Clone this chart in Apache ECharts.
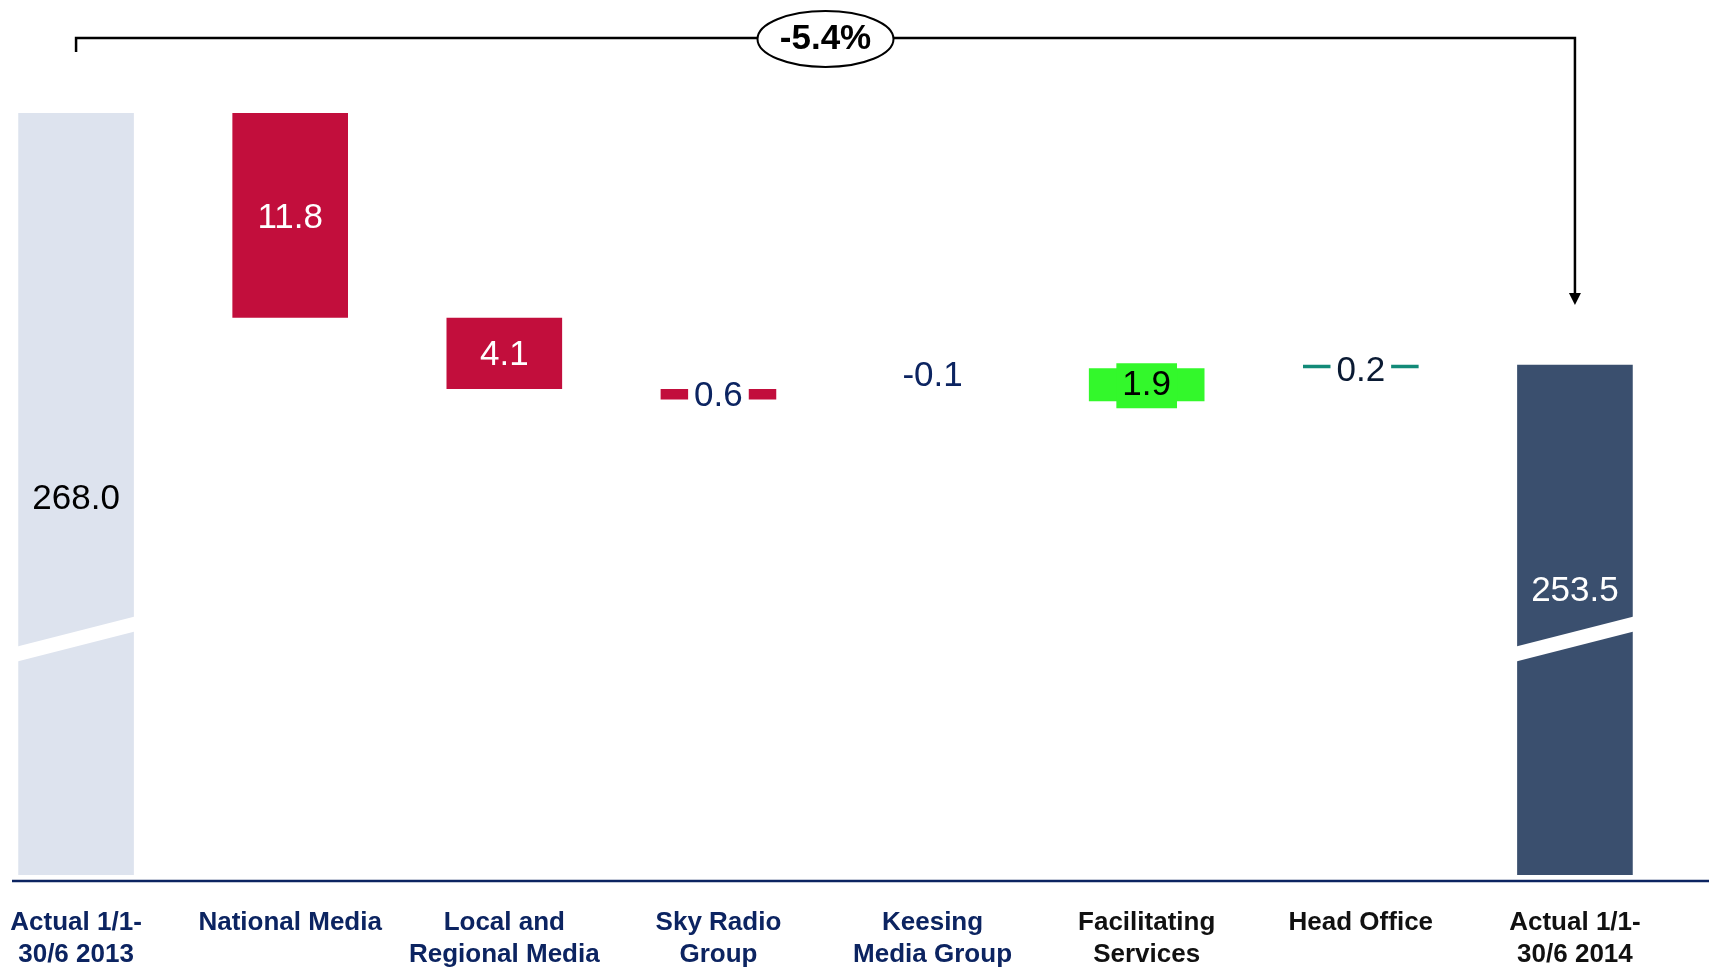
<!DOCTYPE html>
<html lang="en">
  <head>
    <meta charset="UTF-8" />
    <title>Revenue bridge 1/1-30/6 2013 to 1/1-30/6 2014</title>
    <style>
      * {
        margin: 0;
        padding: 0;
      }
      body {
        background: #ffffff;
      }
      #main {
        width: 1709px;
        height: 967px;
      }
    </style>
  </head>
  <body>
    <div id="main"></div>
    <script src="https://cdn.jsdelivr.net/npm/echarts@6/dist/echarts.min.js"></script>
    <script>
      // categories along the bottom
      var categories = [
        "Actual 1/1-\n30/6 2013",
        "National Media",
        "Local and\nRegional Media",
        "Sky Radio\nGroup",
        "Keesing\nMedia Group",
        "Facilitating\nServices",
        "Head Office",
        "Actual 1/1-\n30/6 2014",
      ];
      // start & end totals, and the changes in between
      var startTotal = 268.0;
      var endTotal = 253.5;
      var changes = [-11.8, -4.1, -0.6, -0.1, 1.9, 0.2];
      // the texts shown on the bars
      var valueLabels = ["268.0", "11.8", "4.1", "0.6", "-0.1", "1.9", "0.2", "253.5"];
      // the change between the two totals
      var changePct = "-5.4%";
      // where the axis is cut (value) & the visible bottom of the axis
      var breakValue = 237.7;
      var axisMin = 224.1;

      var barColors = ["#dde3ee", "#c20e3c", "#c20e3c", "#c20e3c", "rgba(0,0,0,0)", "#33f82b", "#128a78", "#3a4f6e"];
      var navy = "#0c2461";
      var font = "'Liberation Sans', Arial, sans-serif";

      // build the waterfall: invisible helper + visible piece
      var helper = [];
      var visible = [];
      helper.push(axisMin);
      visible.push(startTotal - axisMin);
      var level = startTotal;
      for (var i = 0; i < changes.length; i++) {
        var next = Math.round((level + changes[i]) * 10) / 10;
        helper.push(Math.min(level, next));
        visible.push(Math.abs(changes[i]));
        level = next;
      }
      helper.push(axisMin);
      visible.push(endTotal - axisMin);

      // label style for each bar
      var labelStyles = [
        { position: "inside", color: "#000000", offset: [0, 5] },
        { position: "inside", color: "#ffffff", offset: [0, 3] },
        { position: "inside", color: "#ffffff", offset: [0, 2] },
        { position: "inside", color: navy, backgroundColor: "#ffffff", padding: [0, 6], offset: [0, 2] },
        { position: "top", color: navy, distance: 6 },
        { position: "inside", color: "#000000", backgroundColor: "#33f82b", padding: [5, 6], offset: [0, 1] },
        { position: "inside", color: "#0a1a33", backgroundColor: "#ffffff", padding: [0, 6], offset: [0, 5] },
        { position: "inside", color: "#ffffff", offset: [0, -28] },
      ];

      var barData = visible.map(function (v, idx) {
        return {
          value: v,
          itemStyle: { color: barColors[idx] },
          label: Object.assign({ show: true, formatter: valueLabels[idx] }, labelStyles[idx]),
        };
      });

      var catData = categories.map(function (c, idx) {
        return { value: c, textStyle: { color: idx >= 5 ? "#111111" : navy } };
      });

      var myEcharts = echarts.init(document.getElementById("main"));
      var option = {
        animation: false,
        textStyle: { fontFamily: font },
        grid: {
          left: -31,
          right: 27,
          top: 113,
          bottom: 92,
          containLabel: false,
          outerBoundsMode: "none",
        },
        xAxis: {
          type: "category",
          data: catData,
          axisLine: { show: false },
          axisTick: { show: false },
          axisLabel: {
            interval: 0,
            margin: 32,
            fontSize: 26,
            fontWeight: "bold",
            lineHeight: 32,
            fontFamily: font,
          },
        },
        yAxis: {
          type: "value",
          min: axisMin,
          max: startTotal,
          show: false,
          splitLine: { show: false },
        },
        series: [
          {
            type: "bar",
            stack: "wf",
            barWidth: "54%",
            itemStyle: { color: "rgba(0,0,0,0)" },
            data: helper,
            silent: true,
          },
          {
            type: "bar",
            stack: "wf",
            barWidth: "54%",
            label: {
              fontSize: 35,
              fontFamily: font,
            },
            data: barData,
          },
          {
            // white slanted band where the axis is cut
            type: "custom",
            z: 5,
            data: [
              [0, breakValue],
              [7, breakValue],
            ],
            renderItem: function (params, api) {
              var c = api.coord([api.value(0), api.value(1)]);
              var w = api.size([1, 0])[0] * 0.54;
              var x0 = c[0] - w / 2 - 1;
              var x1 = c[0] + w / 2 + 1;
              var tilt = 15;
              var half = 7.5;
              return {
                type: "polygon",
                shape: {
                  points: [
                    [x0, c[1] + tilt - half],
                    [x1, c[1] - tilt - half],
                    [x1, c[1] - tilt + half],
                    [x0, c[1] + tilt + half],
                  ],
                },
                style: { fill: "#ffffff" },
              };
            },
          },
        ],
      };
      myEcharts.setOption(option);

      // the bracket with the % change, and the base line
      var p0 = myEcharts.convertToPixel({ xAxisIndex: 0, yAxisIndex: 0 }, [0, startTotal]);
      var p7 = myEcharts.convertToPixel({ xAxisIndex: 0, yAxisIndex: 0 }, [7, endTotal]);
      var baseY = myEcharts.convertToPixel({ yAxisIndex: 0 }, axisMin);
      var topY = 38;
      var arrowTip = 305;
      var midX = (p0[0] + p7[0]) / 2;

      myEcharts.setOption({
        graphic: [
          {
            type: "line",
            shape: { x1: 12, y1: baseY + 6, x2: 1709, y2: baseY + 6 },
            style: { stroke: navy, lineWidth: 2.5 },
          },
          {
            type: "polyline",
            shape: {
              points: [
                [p0[0], topY + 14],
                [p0[0], topY],
                [p7[0], topY],
                [p7[0], arrowTip - 10],
              ],
            },
            style: { stroke: "#000000", lineWidth: 2.5, fill: null },
          },
          {
            type: "polygon",
            shape: {
              points: [
                [p7[0] - 6, arrowTip - 12],
                [p7[0] + 6, arrowTip - 12],
                [p7[0], arrowTip],
              ],
            },
            style: { fill: "#000000" },
          },
          {
            type: "ellipse",
            shape: { cx: midX, cy: topY + 1, rx: 68, ry: 28 },
            style: { fill: "#ffffff", stroke: "#000000", lineWidth: 2 },
            z: 10,
          },
          {
            type: "text",
            x: midX,
            y: topY + 1,
            z: 11,
            style: {
              text: changePct,
              fill: "#000000",
              font: "bold 35px " + font,
              align: "center",
              verticalAlign: "middle",
            },
          },
        ],
      });
    </script>
  </body>
</html>
